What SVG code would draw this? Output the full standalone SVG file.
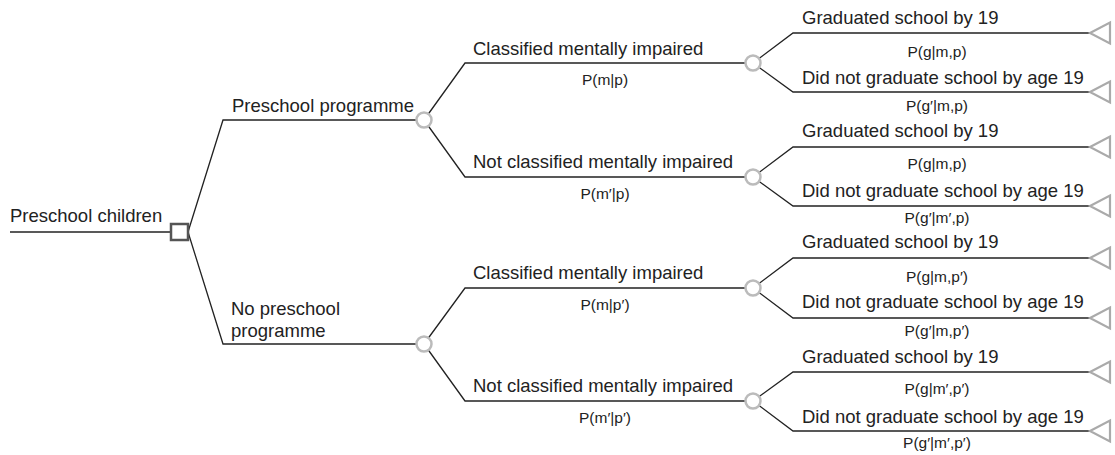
<svg xmlns="http://www.w3.org/2000/svg" width="1115" height="455" viewBox="0 0 1115 455">
  <style>
    .edge { fill: none; stroke: #222; stroke-width: 1.3; }
    .decision { fill: #fff; stroke: #555; stroke-width: 2.5; }
    .chance { fill: #fff; stroke: #bbb; stroke-width: 2.5; }
    .end { fill: #fff; stroke: #aaa; stroke-width: 2.2; stroke-linejoin: miter; }
    .lbl { font-family: "Liberation Sans", Arial, sans-serif; font-size: 18.5px; fill: #222; }
    .prob { font-family: "Liberation Sans", Arial, sans-serif; font-size: 15.5px; fill: #222; text-anchor: middle; }
  </style>

  <!-- branches of the tree -->
  <g id="connectors">
    <path class="edge" d="M10 232 H171"/>
    <path class="edge" d="M188 232 L223 120 H424"/>
    <path class="edge" d="M188 232 L223 344 H424"/>

    <path class="edge" d="M424 120 L465 63 H753"/>
    <path class="edge" d="M424 120 L465 177 H753"/>
    <path class="edge" d="M424 344 L465 288 H753"/>
    <path class="edge" d="M424 344 L465 401 H753"/>

    <path class="edge" d="M753 63 L793 33 H1090"/>
    <path class="edge" d="M753 63 L793 92 H1090"/>
    <path class="edge" d="M753 177 L793 147 H1090"/>
    <path class="edge" d="M753 177 L793 206 H1090"/>
    <path class="edge" d="M753 288 L793 258 H1090"/>
    <path class="edge" d="M753 288 L793 318 H1090"/>
    <path class="edge" d="M753 401 L793 372 H1090"/>
    <path class="edge" d="M753 401 L793 431 H1090"/>
  </g>

  <!-- root decision -->
  <g id="root">
    <text class="lbl" x="10" y="222">Preschool children</text>
    <rect class="decision" x="171" y="224" width="17" height="16"/>
  </g>

  <!-- first chance level -->
  <g id="preschool">
    <text class="lbl" x="232" y="112">Preschool programme</text>
    <circle class="chance" cx="424" cy="120" r="7.5"/>
  </g>
  <g id="no-preschool">
    <text class="lbl" x="231" y="315">No preschool</text>
    <text class="lbl" x="231" y="337">programme</text>
    <circle class="chance" cx="424" cy="344" r="7.5"/>
  </g>

  <!-- second chance level -->
  <g id="m-p">
    <text class="lbl" x="473" y="55">Classified mentally impaired</text>
    <text class="prob" x="605" y="85">P(m|p)</text>
    <circle class="chance" cx="753" cy="63" r="7.5"/>
  </g>
  <g id="notm-p">
    <text class="lbl" x="473" y="168">Not classified mentally impaired</text>
    <text class="prob" x="605" y="199">P(m′|p)</text>
    <circle class="chance" cx="753" cy="177" r="7.5"/>
  </g>
  <g id="m-notp">
    <text class="lbl" x="473" y="279">Classified mentally impaired</text>
    <text class="prob" x="605" y="310">P(m|p′)</text>
    <circle class="chance" cx="753" cy="288" r="7.5"/>
  </g>
  <g id="notm-notp">
    <text class="lbl" x="473" y="392">Not classified mentally impaired</text>
    <text class="prob" x="605" y="423">P(m′|p′)</text>
    <circle class="chance" cx="753" cy="401" r="7.5"/>
  </g>

  <!-- outcomes -->
  <g id="o1">
    <text class="lbl" x="802" y="24">Graduated school by 19</text>
    <text class="prob" x="937" y="57">P(g|m,p)</text>
    <polygon class="end" points="1090,33 1110,22.5 1110,43.5"/>
  </g>
  <g id="o2">
    <text class="lbl" x="802" y="84">Did not graduate school by age 19</text>
    <text class="prob" x="937" y="111">P(g′|m,p)</text>
    <polygon class="end" points="1090,92 1110,81.5 1110,102.5"/>
  </g>
  <g id="o3">
    <text class="lbl" x="802" y="137">Graduated school by 19</text>
    <text class="prob" x="937" y="169">P(g|m,p)</text>
    <polygon class="end" points="1090,147 1110,136.5 1110,157.5"/>
  </g>
  <g id="o4">
    <text class="lbl" x="802" y="197">Did not graduate school by age 19</text>
    <text class="prob" x="937" y="223">P(g′|m′,p)</text>
    <polygon class="end" points="1090,206 1110,195.5 1110,216.5"/>
  </g>
  <g id="o5">
    <text class="lbl" x="802" y="248">Graduated school by 19</text>
    <text class="prob" x="937" y="282">P(g|m,p′)</text>
    <polygon class="end" points="1090,258 1110,247.5 1110,268.5"/>
  </g>
  <g id="o6">
    <text class="lbl" x="802" y="308">Did not graduate school by age 19</text>
    <text class="prob" x="937" y="336">P(g′|m,p′)</text>
    <polygon class="end" points="1090,318 1110,307.5 1110,328.5"/>
  </g>
  <g id="o7">
    <text class="lbl" x="802" y="363">Graduated school by 19</text>
    <text class="prob" x="937" y="394">P(g|m′,p′)</text>
    <polygon class="end" points="1090,372 1110,361.5 1110,382.5"/>
  </g>
  <g id="o8">
    <text class="lbl" x="802" y="423">Did not graduate school by age 19</text>
    <text class="prob" x="937" y="448">P(g′|m′,p′)</text>
    <polygon class="end" points="1090,431 1110,420.5 1110,441.5"/>
  </g>
</svg>
